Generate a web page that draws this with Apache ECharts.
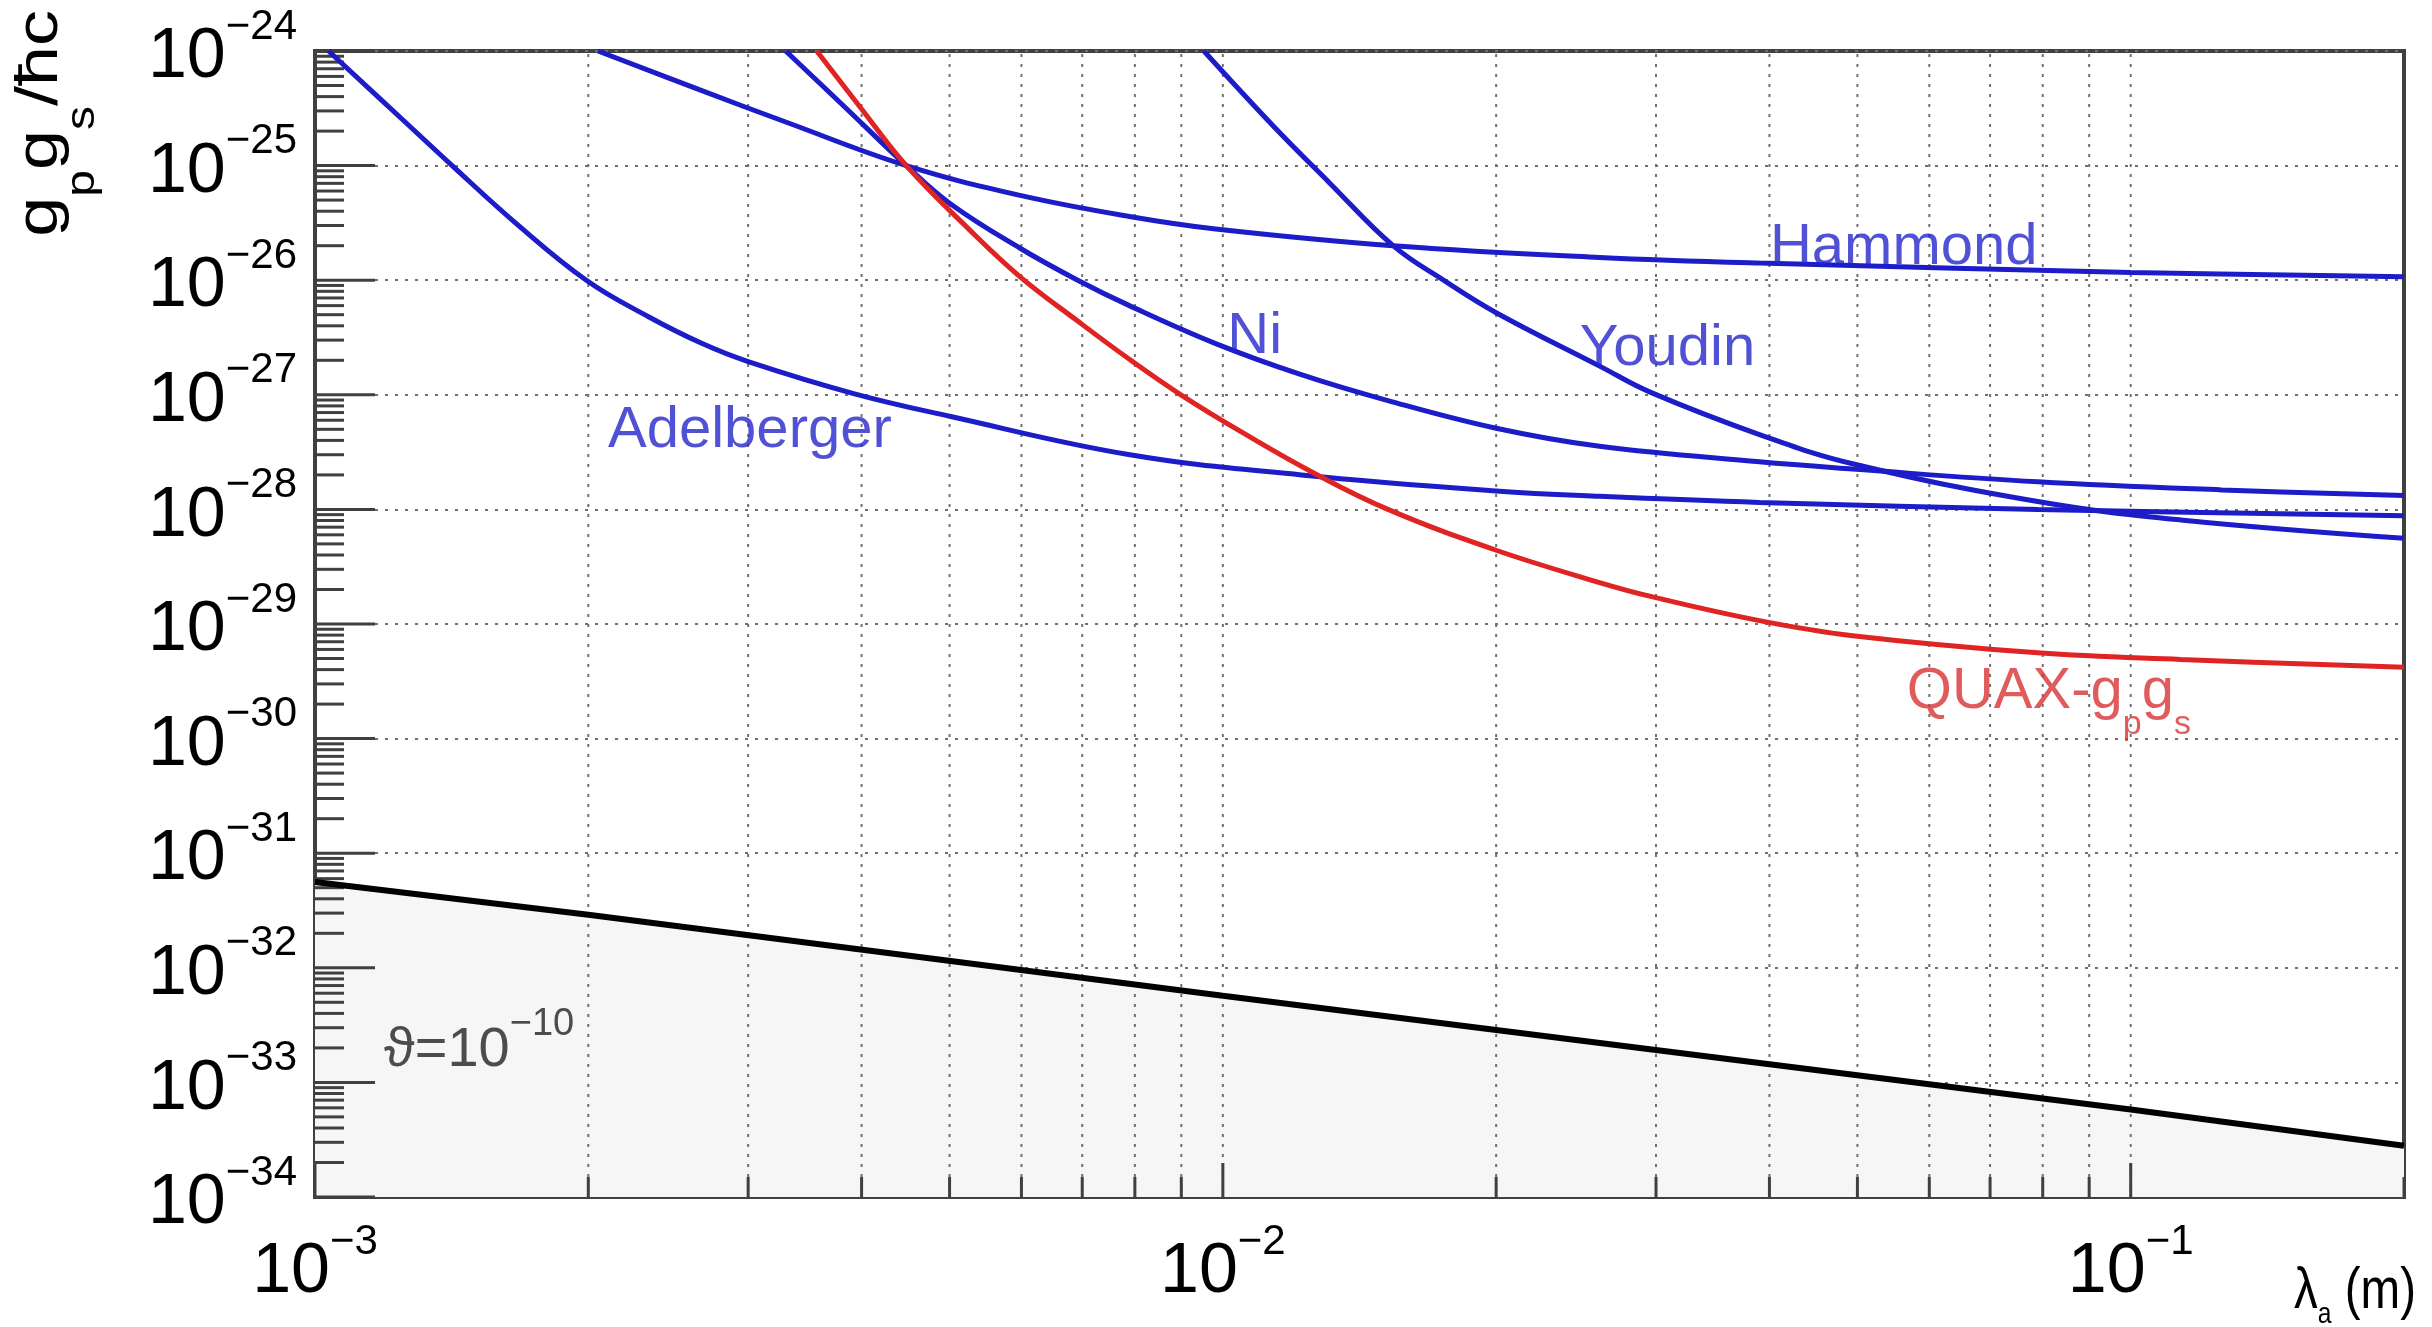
<!DOCTYPE html>
<html>
<head>
<meta charset="utf-8">
<script src="https://cdn.jsdelivr.net/npm/echarts@6/dist/echarts.min.js"></script>
<style>
html, body { margin: 0; padding: 0; background: #ffffff; }
#chart { width: 2432px; height: 1327px; }
</style>
</head>
<body>
<div id="chart"></div>
<script>
// ---- data: [lambda_a (m), g_p g_s / hbar c] ----
const adelberger = [
  [1.035e-3, 1.0e-24], [1.25e-3, 2.5e-25], [1.416e-3, 1.0e-25], [1.66e-3, 3.2e-26],
  [1.99e-3, 1.0e-26], [2.33e-3, 4.8e-27], [2.67e-3, 2.8e-27], [3.0e-3, 1.95e-27],
  [3.93e-3, 1.02e-27], [5.0e-3, 6.5e-28], [7.9e-3, 3.0e-28], [1.22e-2, 2.0e-28],
  [2.0e-2, 1.45e-28], [2.6e-2, 1.3e-28], [3.9e-2, 1.15e-28], [7.9e-2, 1.0e-28],
  [0.2, 8.8e-29]
];
const ni = [
  [3.3e-3, 1.0e-24], [3.81e-3, 3.4e-25], [4.48e-3, 1.0e-25], [5.0e-3, 4.7e-26],
  [5.98e-3, 1.9e-26], [6.92e-3, 1.0e-26], [7.89e-3, 6.0e-27], [9.82e-3, 2.8e-27],
  [1.22e-2, 1.5e-27], [1.52e-2, 8.9e-28], [2.0e-2, 5.1e-28], [2.6e-2, 3.55e-28],
  [3.9e-2, 2.6e-28], [4.94e-2, 2.25e-28], [7.9e-2, 1.74e-28], [0.126, 1.48e-28],
  [0.2, 1.32e-28]
];
const youdin = [
  [9.53e-3, 1.0e-24], [1.135e-2, 2.24e-25], [1.31e-2, 7.1e-26], [1.54e-2, 2.0e-26],
  [1.75e-2, 1.0e-26], [2.0e-2, 5.2e-27], [2.6e-2, 1.78e-27], [2.96e-2, 1.05e-27],
  [3.9e-2, 4.5e-28], [4.94e-2, 2.5e-28], [7.9e-2, 1.17e-28], [0.1135, 8.1e-29],
  [0.2, 5.6e-29]
];
const hammond = [
  [2.05e-3, 1.0e-24], [2.65e-3, 4.6e-25], [3.3e-3, 2.4e-25], [4.48e-3, 1.0e-25],
  [5.98e-3, 5.5e-26], [7.89e-3, 3.6e-26], [9.82e-3, 2.8e-26], [1.54e-2, 2.0e-26],
  [2.6e-2, 1.58e-26], [3.9e-2, 1.41e-26], [0.1, 1.17e-26], [0.2, 1.07e-26]
];
const quax = [
  [3.57e-3, 1.0e-24], [3.99e-3, 3.2e-25], [4.48e-3, 1.0e-25], [5.26e-3, 2.75e-26],
  [5.98e-3, 1.07e-26], [6.92e-3, 4.4e-27], [7.89e-3, 2.04e-27], [8.99e-3, 1.0e-27],
  [1.055e-2, 4.6e-28], [1.256e-2, 2.1e-28], [1.52e-2, 1.0e-28], [2.0e-2, 4.4e-29],
  [2.6e-2, 2.3e-29], [2.96e-2, 1.74e-29], [3.9e-2, 1.07e-29], [4.94e-2, 7.9e-30],
  [7.9e-2, 5.6e-30], [0.1135, 4.9e-30], [0.2, 4.2e-30]
];
const theta = [
  [1.0e-3, 5.6e-32], [2.0e-3, 2.9e-32], [1.0e-2, 5.7e-33], [0.1, 5.8e-34], [0.2, 2.8e-34]
];
const xRange = [1e-3, 0.2];
const yRange = [1e-34, 1e-24];
const xDecadeExponents = [-3, -2, -1];
const yDecadeExponents = [-34, -33, -32, -31, -30, -29, -28, -27, -26, -25, -24];

// ---- build chart ----
const F = "'Liberation Sans', Arial, Helvetica, sans-serif";
const LG = v => Math.log10(v);
const toLog = arr => arr.map(p => [LG(p[0]), LG(p[1])]);
const xMinL = LG(xRange[0]), xMaxL = LG(xRange[1]);
const yMinL = LG(yRange[0]), yMaxL = LG(yRange[1]);

const xTicks = [], yTicks = [];
for (const n of xDecadeExponents) for (let k = 1; k <= 9; k++) {
  const v = n + LG(k);
  if (v <= xMaxL + 1e-9) xTicks.push([v, yMinL, k === 1 ? 1 : 0]);
}
for (const n of yDecadeExponents) for (let k = 1; k <= 9; k++) {
  const v = n + LG(k);
  if (v <= yMaxL + 1e-9) yTicks.push([xMinL, v, k === 1 ? 1 : 0]);
}
const xGrid = xTicks.filter(t => t[0] > xMinL + 1e-6 && t[0] < xMaxL - 1e-3).map(t => [t[0], yMinL]);

const richTick = {
  b: { fontSize: 70, lineHeight: 104, fontFamily: F, color: '#000' },
  s: { fontSize: 42, lineHeight: 42, verticalAlign: 'top', fontFamily: F, color: '#000' }
};
function expLabel(list) {
  return function (v) {
    const r = Math.round(v);
    if (Math.abs(v - r) > 1e-6 || list.indexOf(r) < 0) return '';
    return '{b|10}{s|\u2212' + Math.abs(r) + '}';
  };
}

const BLUE = '#1c1cc8', RED = '#e02424';
const BLUE_TXT = '#2626cc', RED_TXT = '#d83232';

function curve(name, arr, color, width) {
  return {
    name: name, type: 'line', data: toLog(arr), showSymbol: false, symbol: 'none',
    smooth: 0.4, clip: true, z: 6, silent: true,
    lineStyle: { color: color, width: width }
  };
}

const labelItems = [
  { value: [LG(2.1e-3), LG(4.8e-28)], label: { formatter: 'Adelberger', color: BLUE_TXT } },
  { value: [LG(1.01e-2), LG(3.2e-27)], label: { formatter: 'Ni', color: BLUE_TXT } },
  { value: [LG(2.47e-2), LG(2.5e-27)], label: { formatter: 'Youdin', color: BLUE_TXT } },
  { value: [LG(4.0e-2), LG(1.9e-26)], label: { formatter: 'Hammond', color: BLUE_TXT } },
  { value: [LG(5.66e-2), LG(2.55e-30)], label: { formatter: '{q|QUAX-g}{qs|p}{q|g}{qs|s}', color: RED_TXT } },
  { value: [LG(1.19e-3), LG(1.9e-33)], label: { formatter: '{t|\u03d1=10}{ts|\u221210}', color: '#222' } }
];

const chart = echarts.init(document.getElementById('chart'), null, { renderer: 'canvas' });
const option = {
  animation: false,
  backgroundColor: '#ffffff',
  grid: { left: 315, right: 28, top: 51, bottom: 130, show: true, borderColor: '#404040', borderWidth: 4, containLabel: false },
  xAxis: {
    type: 'value', min: xMinL, max: xMaxL, interval: 1,
    axisLine: { show: true, onZero: false, lineStyle: { color: '#404040', width: 4 } },
    axisTick: { show: false }, splitLine: { show: false },
    axisLabel: { formatter: expLabel(xDecadeExponents), rich: richTick, margin: 24, showMinLabel: true, showMaxLabel: true }
  },
  yAxis: {
    type: 'value', min: yMinL, max: yMaxL, interval: 1,
    axisLine: { show: true, onZero: false, lineStyle: { color: '#404040', width: 4 } },
    axisTick: { show: false },
    splitLine: { show: true, lineStyle: { color: '#707070', width: 2, type: [3, 7] } },
    axisLabel: { formatter: expLabel(yDecadeExponents), rich: richTick, margin: 18, padding: [14, 0, 0, 0], showMinLabel: true, showMaxLabel: true }
  },
  graphic: [
    {
      type: 'text', x: 40, y: 10, rotation: Math.PI / 2, scaleX: 1.2, z: 10,
      style: {
        text: '{g|g}{s|p}{g|g}{s|s}{g|/\u0127c}',
        align: 'right', verticalAlign: 'middle', textAlign: 'right', textVerticalAlign: 'middle',
        fill: '#000',
        rich: {
          g: { fontSize: 60, lineHeight: 126, fontFamily: F, fill: '#000' },
          s: { fontSize: 40, lineHeight: 40, verticalAlign: 'bottom', fontFamily: F, fill: '#000' }
        }
      }
    },
    {
      type: 'text', x: 2416, y: 1292, scaleX: 0.82, z: 10,
      style: {
        text: '{l|\u03bb}{ls|a}{l| (m)}',
        align: 'right', verticalAlign: 'middle', textAlign: 'right', textVerticalAlign: 'middle',
        fill: '#000',
        rich: {
          l: { fontSize: 58, lineHeight: 76, fontFamily: F, fill: '#000' },
          ls: { fontSize: 30, lineHeight: 30, verticalAlign: 'bottom', fontFamily: F, fill: '#000' }
        }
      }
    }
  ],
  series: [
    {
      name: 'theta-fill', type: 'line', data: toLog(theta), symbol: 'none', showSymbol: false,
      lineStyle: { width: 0, opacity: 0 }, areaStyle: { color: '#f6f6f6', origin: 'start', opacity: 1 },
      z: 1, silent: true
    },
    {
      name: 'xgrid', type: 'custom', data: xGrid, z: 2, silent: true, clip: false,
      renderItem: function (params, api) {
        const x = api.value(0);
        const p1 = api.coord([x, yMinL]);
        const p2 = api.coord([x, yMaxL]);
        return { type: 'line', shape: { x1: p1[0], y1: p1[1], x2: p2[0], y2: p2[1] },
          style: { stroke: '#707070', lineWidth: 2, lineDash: [3, 7] } };
      }
    },
    {
      name: 'xticks', type: 'custom', data: xTicks, z: 3, silent: true, clip: false,
      renderItem: function (params, api) {
        const p = api.coord([api.value(0), yMinL]);
        const len = api.value(2) ? 34 : 20;
        return { type: 'line', shape: { x1: p[0], y1: p[1], x2: p[0], y2: p[1] - len },
          style: { stroke: '#404040', lineWidth: 3 } };
      }
    },
    {
      name: 'yticks', type: 'custom', data: yTicks, z: 3, silent: true, clip: false,
      renderItem: function (params, api) {
        const p = api.coord([xMinL, api.value(1)]);
        const len = api.value(2) ? 60 : 29;
        return { type: 'line', shape: { x1: p[0], y1: p[1], x2: p[0] + len, y2: p[1] },
          style: { stroke: '#404040', lineWidth: 3 } };
      }
    },
    curve('Hammond', hammond, BLUE, 5),
    curve('Adelberger', adelberger, BLUE, 5),
    curve('Ni', ni, BLUE, 5),
    curve('Youdin', youdin, BLUE, 5),
    curve('QUAX-gpgs', quax, RED, 5),
    {
      name: 'theta', type: 'line', data: toLog(theta), symbol: 'none', showSymbol: false,
      lineStyle: { color: '#000', width: 6 }, z: 7, silent: true
    },
    {
      name: 'labels', type: 'scatter', data: labelItems, symbol: 'circle', symbolSize: 1, z: 8, silent: true,
      itemStyle: { color: 'rgba(255,255,255,0)' },
      label: {
        show: true, position: 'right', distance: 0, fontSize: 58, fontFamily: F,
        rich: {
          q: { fontSize: 58, lineHeight: 100, fontFamily: F, color: RED_TXT },
          qs: { fontSize: 34, lineHeight: 34, verticalAlign: 'bottom', fontFamily: F, color: RED_TXT },
          t: { fontSize: 56, lineHeight: 90, fontFamily: F, color: '#222' },
          ts: { fontSize: 38, lineHeight: 38, verticalAlign: 'top', fontFamily: F, color: '#222' }
        }
      }
    }
  ]
};
chart.setOption(option);
</script>
</body>
</html>
